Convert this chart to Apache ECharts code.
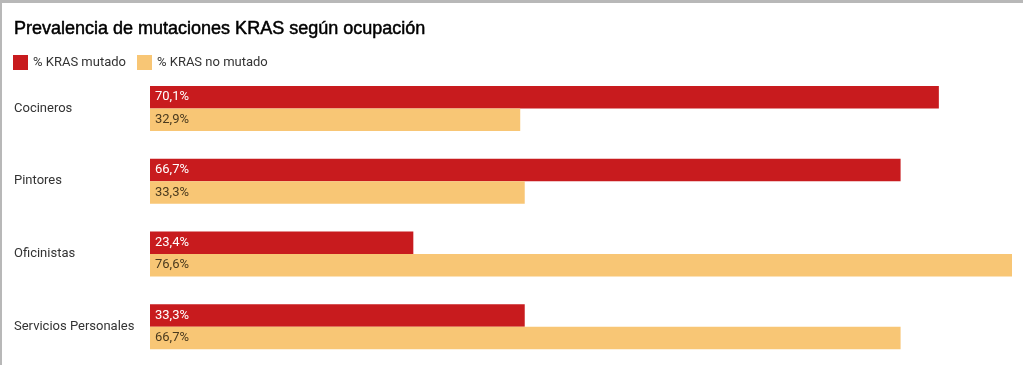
<!DOCTYPE html>
<html><head><meta charset="utf-8">
<script src="https://cdn.jsdelivr.net/npm/echarts@6/dist/echarts.min.js"></script>
<style>html,body{margin:0;padding:0;background:#fff}#c{width:1021px;height:362px;border-top:3px solid #b8b8b8;border-left:2px solid #b8b8b8}</style>
</head><body><div id="c"></div>
<script>
const categories = ['Cocineros', 'Pintores', 'Oficinistas', 'Servicios Personales'];
const mutado = [70.1, 66.7, 23.4, 33.3];
const noMutado = [32.9, 33.3, 76.6, 66.7];
const seriesNames = ['% KRAS mutado', '% KRAS no mutado'];
const fmt = p => p.value.toFixed(1).replace('.', ',') + '%';
const chart = echarts.init(document.getElementById('c'));
chart.setOption({
  animation: false,
  title: {text: 'Prevalencia de mutaciones KRAS según ocupación', left: 7, top: 12,
    textStyle: {fontFamily: 'Liberation Sans', fontSize: 18, fontWeight: 'normal', color: '#000',
      textBorderColor: '#000', textBorderWidth: 0.5}},
  legend: {left: 6, top: 47, itemWidth: 15, itemHeight: 15, itemGap: 11, icon: 'rect',
    textStyle: {fontFamily: 'Roboto', fontSize: 13, color: '#333'}},
  grid: {left: 148, right: 11, top: 69, bottom: 2, containLabel: false},
  xAxis: {type: 'value', min: 0, max: 76.6, show: false},
  yAxis: {type: 'category', data: categories, inverse: true,
    axisLine: {show: false}, axisTick: {show: false},
    axisLabel: {align: 'left', margin: 136, fontFamily: 'Roboto', fontSize: 13, color: '#333'}},
  series: [
    {name: seriesNames[0], type: 'bar', data: mutado, barWidth: 22.5, barGap: '0%',
     itemStyle: {color: '#c81b1e'},
     label: {show: true, position: 'insideLeft', formatter: fmt, color: '#fff', fontFamily: 'Roboto', fontSize: 13, distance: 5}},
    {name: seriesNames[1], type: 'bar', data: noMutado, barWidth: 22.5, barGap: '0%',
     itemStyle: {color: '#f8c675'},
     label: {show: true, position: 'insideLeft', formatter: fmt, color: '#4a3a1e', fontFamily: 'Roboto', fontSize: 13, distance: 5}}
  ]
});
</script></body></html>
